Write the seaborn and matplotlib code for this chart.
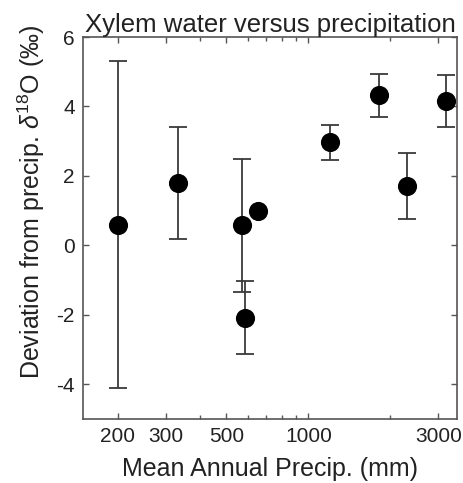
import matplotlib
matplotlib.use("Agg")
import matplotlib.pyplot as plt
import matplotlib.ticker as mticker
import numpy as np
import pandas as pd
import seaborn as sns

# Mean annual precipitation (mm) per site
precip_mm = [200, 332, 571, 586, 655, 1200, 1810, 2300, 3190]
# Xylem water deviation from precipitation d18O (permil)
deviation = [0.60, 1.80, 0.58, -2.08, 1.00, 2.97, 4.32, 1.70, 4.15]
# Error (one standard deviation)
dev_err = [4.70, 1.62, 1.92, 1.05, 0.0, 0.50, 0.61, 0.95, 0.75]

x_major = [200, 300, 500, 1000, 3000]
x_minor = [400, 600, 700, 800, 900, 2000]
y_ticks = [-4, -2, 0, 2, 4, 6]

df = pd.DataFrame({"precip": precip_mm, "dev": deviation, "err": dev_err})

sns.set_theme(style="ticks")
plt.rcParams["font.family"] = ["Liberation Sans", "DejaVu Sans"]
plt.rcParams["mathtext.fontset"] = "custom"
plt.rcParams["mathtext.rm"] = "Liberation Sans"
plt.rcParams["mathtext.it"] = "Liberation Sans:italic"

fig = plt.figure(figsize=(4.63, 4.83), dpi=100)
ax = fig.add_axes([83 / 463, 1 - 419 / 483, (457 - 83) / 463, (419 - 37) / 483])

ax.set_xscale("log")
ax.errorbar(df["precip"], df["dev"], yerr=df["err"], fmt="none",
            ecolor="#3a3a3a", elinewidth=1.3, capsize=6.5, capthick=1.3, zorder=2)
sns.scatterplot(data=df, x="precip", y="dev", ax=ax, s=190, color="black",
                edgecolor="black", linewidth=0, zorder=3, legend=False)

ax.set_xlim(149, 3510)
ax.set_ylim(-5, 6)
ax.xaxis.set_major_locator(mticker.FixedLocator(x_major))
ax.xaxis.set_major_formatter(mticker.FixedFormatter([str(v) for v in x_major]))
ax.xaxis.set_minor_locator(mticker.FixedLocator(x_minor))
ax.xaxis.set_minor_formatter(mticker.NullFormatter())
ax.set_yticks(y_ticks)
ax.set_yticklabels([str(v) for v in y_ticks])

ax.tick_params(which="both", direction="in", top=True, right=True,
               colors="#555555", labelcolor="#222222", labelsize=15, pad=6)
ax.tick_params(which="major", length=4, width=1)
ax.tick_params(which="minor", length=3, width=1)
for s in ax.spines.values():
    s.set_color("#555555")
    s.set_linewidth(1.2)

ax.set_title("Xylem water versus precipitation", fontsize=18.5, color="#222222", pad=3)
ax.set_xlabel("Mean Annual Precip. (mm)", fontsize=18, color="#222222", labelpad=8)
ax.set_ylabel(r"Deviation from precip. $\delta^{18}$O (‰)", fontsize=18,
              color="#222222")
ax.yaxis.set_label_coords(-0.095, 0.568)

fig.savefig("out.png", dpi=100)
